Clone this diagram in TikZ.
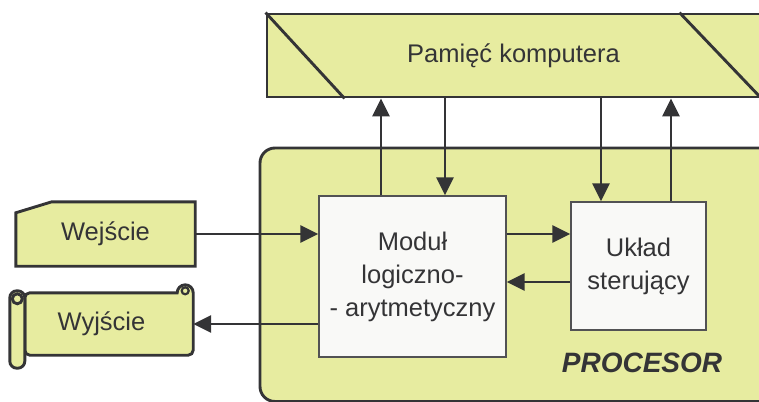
\documentclass[tikz,border=0pt]{standalone}
\usepackage{fontspec}
\setmainfont{Liberation Sans}
\usetikzlibrary{arrows.meta,calc,backgrounds}
\definecolor{ink}{RGB}{52,52,54}
\definecolor{lime}{RGB}{231,236,160}
\definecolor{paper}{RGB}{249,249,247}
\begin{document}
\begin{tikzpicture}[x=1pt,y=-1pt,
    every node/.style={inner sep=0pt,text=ink,align=center,font=\fontsize{25.5}{33}\selectfont},
    line/.style={draw=ink,line width=2.9pt},
    arr/.style={line,-{Triangle[length=18pt,width=17pt]}},
    unit/.style={draw=ink!85,line width=1.3pt,fill=paper},
    io/.style={minimum width=#1,minimum height=62pt}]
    \useasboundingbox (0,0) rectangle (759,401);
    \draw [line,fill=lime,rounded corners=15pt] (260,148) rectangle (800,401.5);
    \node (proc) at (642,363) {\fontsize{28}{34}\selectfont\bfseries\itshape PROCESOR};
    \node [line,fill=lime,minimum width=493pt,minimum height=83pt] (pam) at (513.5,55.5) {Pamięć komputera};
    \draw [line] (pam.north west) -- ($(pam.south west)+(79,0)$);
    \draw [line] ($(pam.north east)+(-82,0)$) -- (pam.south east);
    \node [unit,minimum width=187pt,minimum height=161pt] (modul) at (412.5,276.5) {Moduł\\logiczno-\\- arytmetyczny};
    \node [unit,minimum width=135pt,minimum height=128pt] (uklad) at (638.5,266) {Układ\\sterujący};
    \node [io=179pt,minimum height=64pt] (wej) at (105.5,234) {Wejście};
    \node [io=183pt] (wyj) at (101.5,324) {Wyjście};
    \begin{scope}[on background layer]
    \draw [line,fill=lime] (wej.south west) -- ($(wej.north west)+(0,11)$) -- ($(wej.north west)+(36,0)$) -- (wej.north east) -- (wej.south east) -- cycle;
    \draw [line,fill=lime] ($(wyj.north west)+(15,0)$) -- ($(wyj.north east)+(-16,0)$) arc [start angle=180,end angle=0,radius=8pt] [rounded corners=5pt] -- (wyj.south east) -- ($(wyj.south west)+(15,0)$) -- cycle;
    \draw [line,line width=2.2pt] ($(wyj.north east)+(-8,-2)$) circle [radius=3.5pt];
    \draw [line,fill=lime,rounded corners=7pt] ($(wyj.north west)+(0,-2)$) rectangle ($(wyj.south west)+(15,13)$);
    \draw [line] ($(wyj.north west)+(7.5,6)$) circle [radius=5pt];
    \end{scope}
    \coordinate (aluUp) at ($(modul.north)+(-31.5,0)$);
    \coordinate (aluIn) at ($(modul.north)+(32.5,0)$);
    \coordinate (ctlIn) at ($(uklad.north)+(-37.5,0)$);
    \coordinate (ctlUp) at ($(uklad.north)+(32.5,0)$);
    \coordinate (back) at ($(uklad.west)+(0,16)$);
    \draw [arr] (aluUp) -- (aluUp |- pam.south);
    \draw [arr] (aluIn |- pam.south) -- (aluIn);
    \draw [arr] (ctlIn |- pam.south) -- (ctlIn);
    \draw [arr] (ctlUp) -- (ctlUp |- pam.south);
    \draw [arr] (wej.east) -- (wej.east -| modul.west);
    \draw [arr] (wyj.east -| modul.west) -- (wyj.east);
    \draw [arr] (wej.east -| modul.east) -- (wej.east -| uklad.west);
    \draw [arr] (back) -- (back -| modul.east);
\end{tikzpicture}
\end{document}
